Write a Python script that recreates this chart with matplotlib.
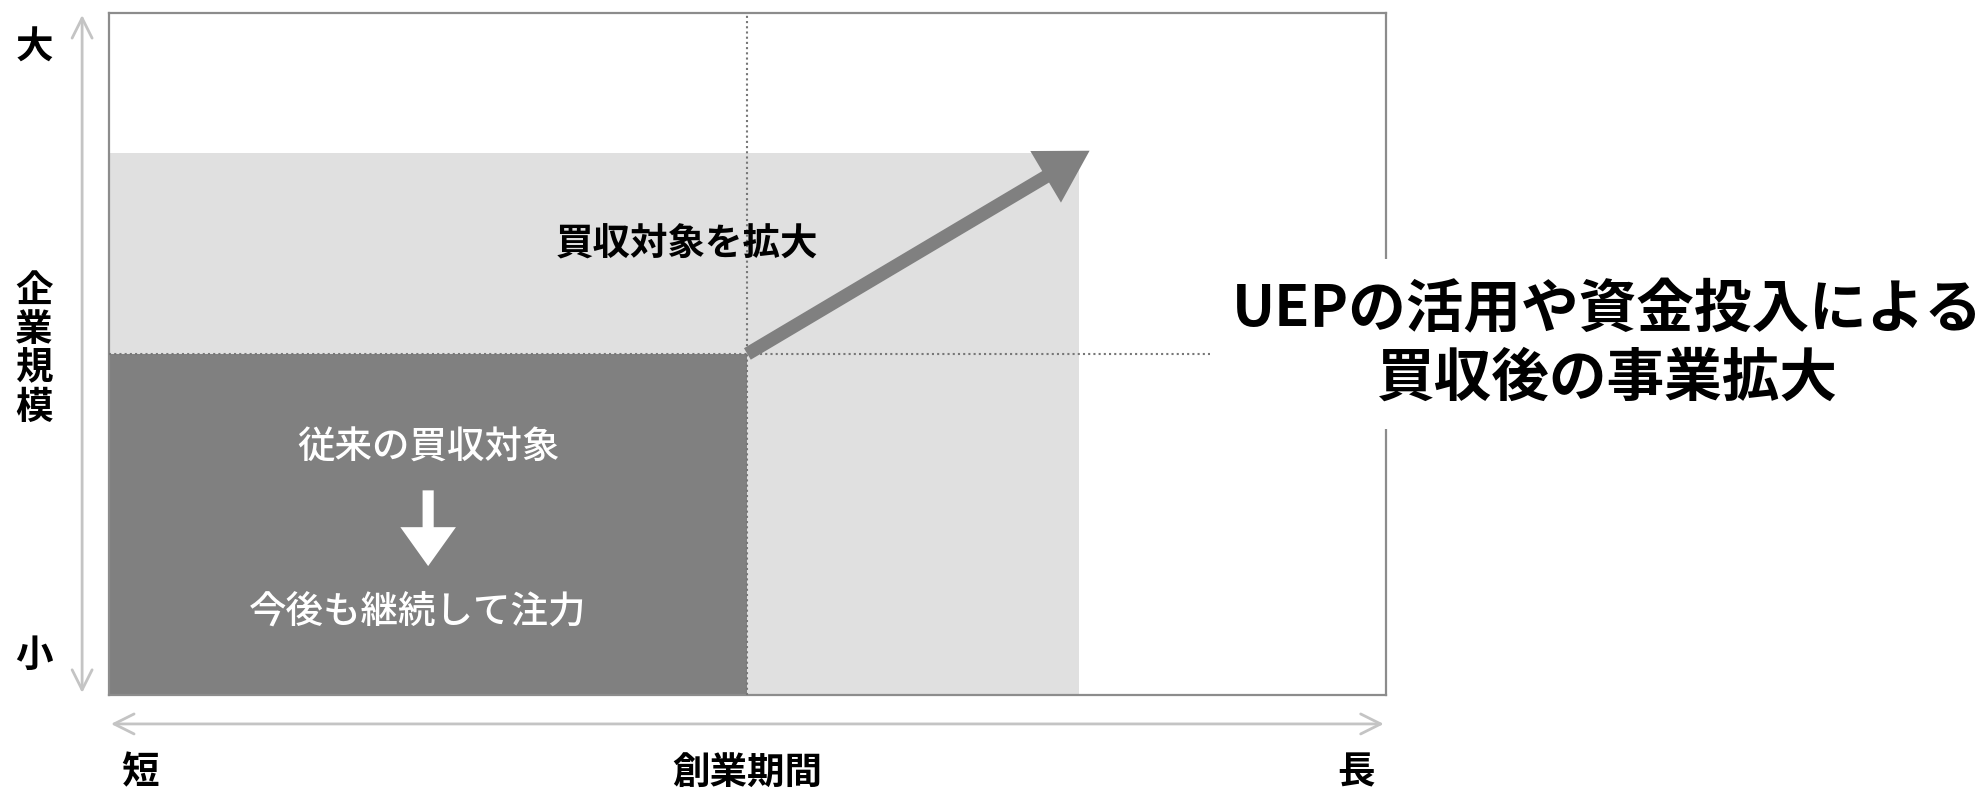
import matplotlib
matplotlib.use("Agg")
import matplotlib.pyplot as plt

plt.rcParams['font.family'] = ['Noto Sans CJK JP', 'DejaVu Sans']

# data (x: 創業期間 0-100, y: 企業規模 0-100)
region_labels = ["従来の買収対象", "買収対象を拡大"]
region_x_max = [50, 76]
region_y_max = [50, 79.5]
region_colors = ["#808080", "#e0e0e0"]
growth_start = (50, 50)
growth_end = (76.8, 79.8)
y_labels = ["小", "企業規模", "大"]
x_labels = ["短", "創業期間", "長"]
headline = "UEPの活用や資金投入による\n買収後の事業拡大"
sub_label = "今後も継続して注力"

fig = plt.figure(figsize=(19.84, 7.9), dpi=100)
ax = fig.add_axes([0.0549, 0.1203, 0.6436, 0.8633])
ax.set_xlim(0, 100)
ax.set_ylim(0, 100)
ax.set_xticks([])
ax.set_yticks([])
for s in ax.spines.values():
    s.set_color("#8c8c8c")
    s.set_linewidth(1.6)

# regions, larger one first
ax.bar(0, region_y_max[1], width=region_x_max[1], align="edge",
       color=region_colors[1], zorder=1)
ax.bar(0, region_y_max[0], width=region_x_max[0], align="edge",
       color=region_colors[0], zorder=2)

# dotted guides
ax.axvline(growth_start[0], color="#777777", lw=1.5, ls=(0, (1, 1.5)), zorder=3)
ax.plot([0, 125], [growth_start[1]] * 2, color="#777777", lw=1.5,
        ls=(0, (1, 1.5)), zorder=3, clip_on=False)

# growth arrow
ax.annotate("", xy=growth_end, xytext=growth_start,
            arrowprops=dict(arrowstyle="simple,head_length=2.3,head_width=2.7,tail_width=0.6",
                            mutation_scale=16, color="#808080", lw=0,
                            shrinkA=0, shrinkB=0), zorder=4)

ax.text(45.3, 66.1, region_labels[1], ha="center", va="center",
        fontsize=27, fontweight="bold", color="black", zorder=5)

# inside dark region
ax.text(25.0, 36.3, region_labels[0], ha="center", va="center",
        fontsize=27, fontweight="medium", color="white", zorder=5)
ax.annotate("", xy=(25.0, 18.9), xytext=(25.0, 30.0),
            arrowprops=dict(arrowstyle="simple,head_length=1.75,head_width=2.5,tail_width=0.5",
                            mutation_scale=16, color="white", lw=0,
                            shrinkA=0, shrinkB=0), zorder=5)
ax.text(24.2, 12.2, sub_label, ha="center", va="center",
        fontsize=27, fontweight="medium", color="white", zorder=5)

# axis arrows
arrow_kw = dict(arrowstyle="<->,head_length=0.9,head_width=0.45", mutation_scale=16,
                color="#c4c4c4", lw=2, shrinkA=0, shrinkB=0)
ax.annotate("", xy=(-0.021, 0.003), xytext=(-0.021, 0.997),
            xycoords="axes fraction", arrowprops=arrow_kw, annotation_clip=False)
ax.annotate("", xy=(0.0016, -0.0425), xytext=(0.9984, -0.0425),
            xycoords="axes fraction", arrowprops=arrow_kw, annotation_clip=False)

# axis labels
lab_kw = dict(ha="center", va="center", fontsize=27, fontweight="bold",
              color="black", transform=ax.transAxes, clip_on=False)
ax.text(-0.0587, 0.0587, y_labels[0], **lab_kw)
ax.text(-0.0587, 0.508, "\n".join(y_labels[1]), linespacing=1.0, **lab_kw)
ax.text(-0.0587, 0.950, y_labels[2], **lab_kw)
ax.text(0.0242, -0.113, x_labels[0], **lab_kw)
ax.text(0.4996, -0.113, x_labels[1], **lab_kw)
ax.text(0.9765, -0.113, x_labels[2], **lab_kw)

# headline with white box
fig.text(0.810, 0.564, headline, ha="center", va="center", fontsize=41.5,
         fontweight="bold", color="black", linespacing=1.22,
         bbox=dict(boxstyle="square,pad=0.38", fc="white", ec="none"), zorder=10)

fig.savefig("out.png", dpi=100, facecolor="white")
